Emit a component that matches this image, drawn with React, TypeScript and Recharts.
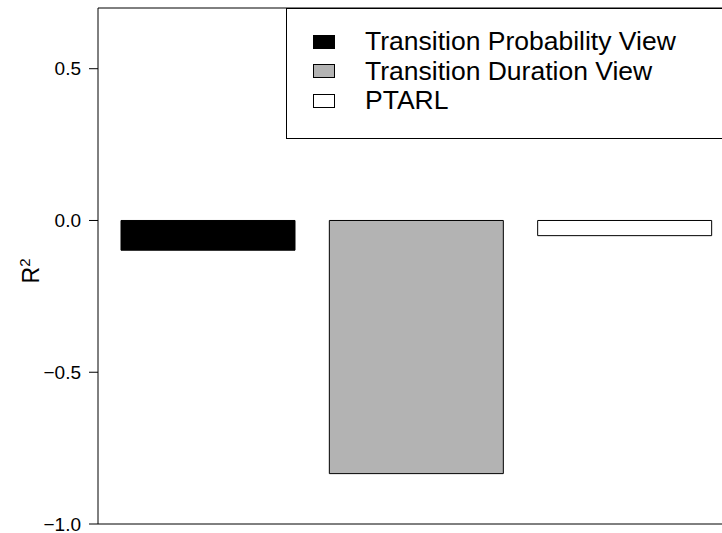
import React from 'react';
import { BarChart, Bar, Cell, XAxis, YAxis, ReferenceLine, Legend } from 'recharts';

const categories = ['Transition Probability View', 'Transition Duration View', 'PTARL'];
const r2Values = [-0.098, -0.834, -0.05];
const barColors = ['#000000', '#b3b3b3', '#ffffff'];
const yTicks = [-1, -0.5, 0, 0.5];

const data = categories.map((name, i) => ({ name, value: r2Values[i] }));

const FONT = '"Liberation Sans", Arial, Helvetica, sans-serif';

// R style tick labels, true minus sign
const fmt = (v: number) => (v < 0 ? '\u2212' : '') + Math.abs(v).toFixed(1);

const YTick = (props: any) => {
  const { x, y, payload } = props;
  return (
    <text
      x={x}
      y={y}
      textAnchor="end"
      dominantBaseline="central"
      fontSize={19}
      fontFamily={FONT}
      fill="#000"
    >
      {fmt(payload.value)}
    </text>
  );
};

const YLabel = () => (
  <text transform="translate(39,271) rotate(-90)" textAnchor="middle" fontSize={23} fontFamily={FONT} fill="#000">
    R<tspan dy={-9} fontSize={15}>2</tspan>
  </text>
);

const LegendBox = () => (
  <div
    style={{
      border: '1px solid #000',
      width: 449,
      height: 131,
      boxSizing: 'border-box',
      padding: '18px 0 0 26px',
      fontFamily: FONT,
      fontSize: 26.5,
      background: '#fff',
    }}
  >
    {categories.map((name, i) => (
      <div key={name} style={{ display: 'flex', alignItems: 'center', height: 29.5 }}>
        <span
          style={{
            display: 'inline-block',
            width: 22,
            height: 14,
            boxSizing: 'border-box',
            background: barColors[i],
            border: '1px solid #000',
            marginRight: 30,
            flexShrink: 0,
          }}
        />
        <span style={{ whiteSpace: 'nowrap', color: '#000' }}>{name}</span>
      </div>
    ))}
  </div>
);

export default function App() {
  return (
    <div style={{ position: 'fixed', left: 0, top: 0, width: 722, height: 533, overflow: 'hidden', background: '#fff' }}>
      <BarChart width={760} height={533} data={data} margin={{ top: 8, right: 24, bottom: 8, left: 0 }}>
        <XAxis
          dataKey="name"
          type="category"
          tick={false}
          tickLine={false}
          height={1}
          padding={{ left: 6, right: 7 }}
          axisLine={{ stroke: '#000', strokeWidth: 1 }}
        />
        <YAxis
          width={98}
          domain={[-1, 0.7]}
          ticks={yTicks}
          allowDataOverflow
          tick={<YTick />}
          tickSize={9}
          tickMargin={8}
          tickLine={{ stroke: '#000' }}
          axisLine={{ stroke: '#000' }}
          label={<YLabel />}
        />
        <ReferenceLine y={0.7} stroke="#000" strokeWidth={1} ifOverflow="extendDomain" />
        <Legend
          layout="vertical"
          align="center"
          verticalAlign="middle"
          content={<LegendBox />}
          wrapperStyle={{ left: 286, top: 8, width: 449, height: 131 }}
        />
        <Bar dataKey="value" barSize={174} stroke="#000" strokeWidth={1} isAnimationActive={false}>
          {data.map((d, i) => (
            <Cell key={d.name} fill={barColors[i]} />
          ))}
        </Bar>
      </BarChart>
    </div>
  );
}
